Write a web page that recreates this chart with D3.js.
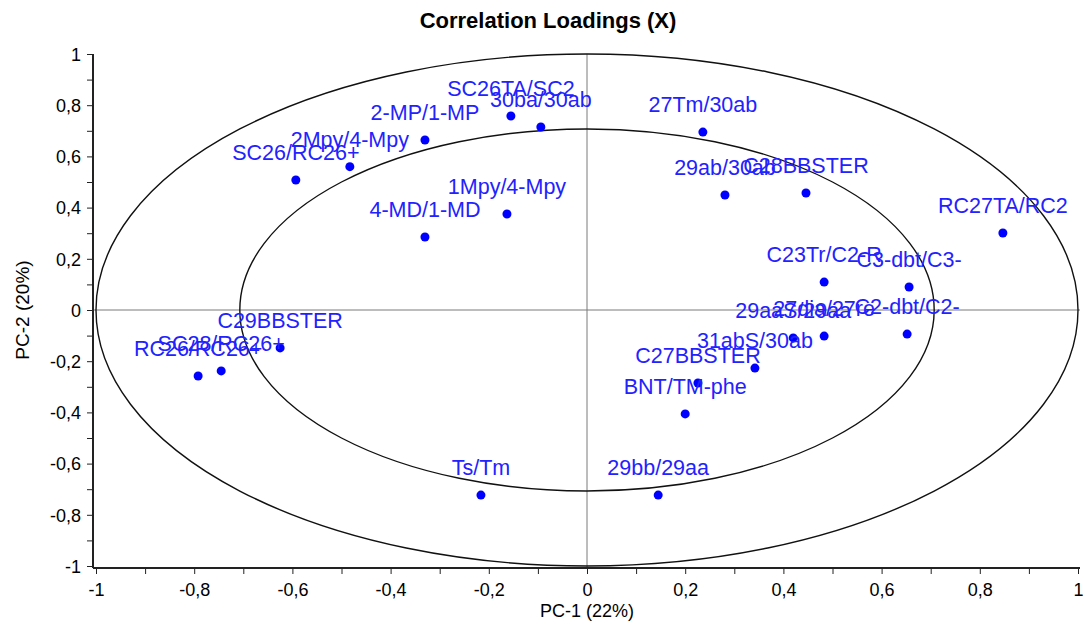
<!DOCTYPE html>
<html>
<head>
<meta charset="utf-8">
<script src="https://cdn.jsdelivr.net/npm/d3@7"></script>
<style>
  body { margin: 0; background: #fff; }
  text { font-family: "Liberation Sans", Arial, sans-serif; }
  .tick line { stroke: #222; }
  .domain { stroke: #222; stroke-width: 2; }
</style>
</head>
<body>
<svg id="chart" width="1085" height="635"></svg>
<script>
// variable names (truncated like in the original plot)
const names = [
  'SC26TA/SC2', '30ba/30ab', '2-MP/1-MP', '2Mpy/4-Mpy', 'SC26/RC26+',
  '1Mpy/4-Mpy', '4-MD/1-MD', '27Tm/30ab', '29ab/30ab', 'C28BBSTER',
  'RC27TA/RC2', 'C23Tr/C2-R', 'C3-dbt/C3-', '29aaS/29aa', '27dia/27re',
  'C2-dbt/C2-', '31abS/30ab', 'C27BBSTER', 'BNT/TM-phe', 'C29BBSTER',
  'SC28/RC26+', 'RC26/RC26+', 'Ts/Tm', '29bb/29aa'
];
// PC-1 loadings
const pc1 = [
  -0.155, -0.094, -0.33, -0.483, -0.593,
  -0.163, -0.33, 0.236, 0.281, 0.446,
  0.847, 0.483, 0.656, 0.42, 0.483,
  0.652, 0.342, 0.226, 0.2, -0.625,
  -0.745, -0.792, -0.216, 0.145
];
// PC-2 loadings
const pc2 = [
  0.758, 0.715, 0.664, 0.56, 0.508,
  0.375, 0.285, 0.695, 0.449, 0.457,
  0.301, 0.109, 0.09, -0.109, -0.102,
  -0.094, -0.227, -0.285, -0.406, -0.148,
  -0.238, -0.258, -0.723, -0.723
];
const tickValues = [-1, -0.8, -0.6, -0.4, -0.2, 0, 0.2, 0.4, 0.6, 0.8, 1];
const minorTicks = d3.range(-10, 11).map(d => d / 10);
const ellipseRadii = [1, Math.sqrt(0.5)];

const svg = d3.select('#chart');
const plotLeft = 93, plotRight = 1080, plotTop = 54, plotBottom = 568;

const x = d3.scaleLinear().domain([-1, 1]).range([96, 1078]);
const y = d3.scaleLinear().domain([-1, 1]).range([566, 54]);

const fmt = d => d3.format('~g')(d).replace('.', ',').replace('−', '-');

// title
svg.append('text')
  .attr('x', 548).attr('y', 28)
  .attr('text-anchor', 'middle')
  .style('font-size', '22px')
  .style('font-weight', 'bold')
  .text('Correlation Loadings (X)');

// zero lines
svg.append('line')
  .attr('x1', plotLeft).attr('x2', plotRight)
  .attr('y1', y(0)).attr('y2', y(0))
  .attr('stroke', '#7a7a7a');
svg.append('line')
  .attr('x1', x(0)).attr('x2', x(0))
  .attr('y1', plotTop).attr('y2', plotBottom)
  .attr('stroke', '#7a7a7a');

// correlation ellipses (100% and 50% explained variance)
svg.selectAll('ellipse')
  .data(ellipseRadii)
  .join('ellipse')
  .attr('cx', x(0)).attr('cy', y(0))
  .attr('rx', r => x(r) - x(0))
  .attr('ry', r => y(0) - y(r))
  .attr('fill', 'none')
  .attr('stroke', '#111')
  .attr('stroke-width', 1.4);

// axes
const xAxis = svg.append('g')
  .attr('transform', `translate(0,${plotBottom})`)
  .call(d3.axisBottom(x).tickValues(minorTicks).tickSize(6).tickSizeOuter(0).tickFormat(''));
xAxis.select('.domain').attr('d', `M${plotLeft},0H${plotRight}`);
xAxis.selectAll('.tick')
  .filter(d => tickValues.some(t => Math.abs(t - d) < 1e-9))
  .append('text')
  .attr('y', 28)
  .attr('fill', '#000')
  .attr('text-anchor', 'middle')
  .style('font-family', '"Liberation Sans Narrow", "Arial Narrow", sans-serif')
  .style('font-size', '18px')
  .text(fmt);

const yAxis = svg.append('g')
  .attr('transform', `translate(${plotLeft},0)`)
  .call(d3.axisLeft(y).tickValues(minorTicks).tickSize(6).tickSizeOuter(0).tickFormat(''));
yAxis.select('.domain').attr('d', `M0,${plotTop}V${plotBottom}`);
yAxis.selectAll('.tick')
  .filter(d => tickValues.some(t => Math.abs(t - d) < 1e-9))
  .append('text')
  .attr('x', -12)
  .attr('dy', '0.35em')
  .attr('fill', '#000')
  .attr('text-anchor', 'end')
  .style('font-size', '18px')
  .text(fmt);

// axis titles
svg.append('text')
  .attr('x', x(0)).attr('y', 617)
  .attr('text-anchor', 'middle')
  .style('font-family', '"Liberation Sans Narrow", "Arial Narrow", sans-serif')
  .style('font-size', '18px')
  .text('PC-1 (22%)');
svg.append('text')
  .attr('transform', `translate(29,${y(0)}) rotate(-90)`)
  .attr('text-anchor', 'middle')
  .style('font-size', '19px')
  .text('PC-2 (20%)');

// points and labels
const pts = names.map((n, i) => ({ name: n, x: pc1[i], y: pc2[i] }));
const g = svg.append('g');
g.selectAll('circle')
  .data(pts)
  .join('circle')
  .attr('cx', d => x(d.x))
  .attr('cy', d => y(d.y))
  .attr('r', 4.5)
  .attr('fill', '#0000ff');
g.selectAll('text')
  .data(pts)
  .join('text')
  .attr('x', d => x(d.x))
  .attr('y', d => y(d.y) - 20)
  .attr('text-anchor', 'middle')
  .attr('fill', '#2222ff')
  .style('font-size', '21.5px')
  .text(d => d.name);
</script>
</body>
</html>
